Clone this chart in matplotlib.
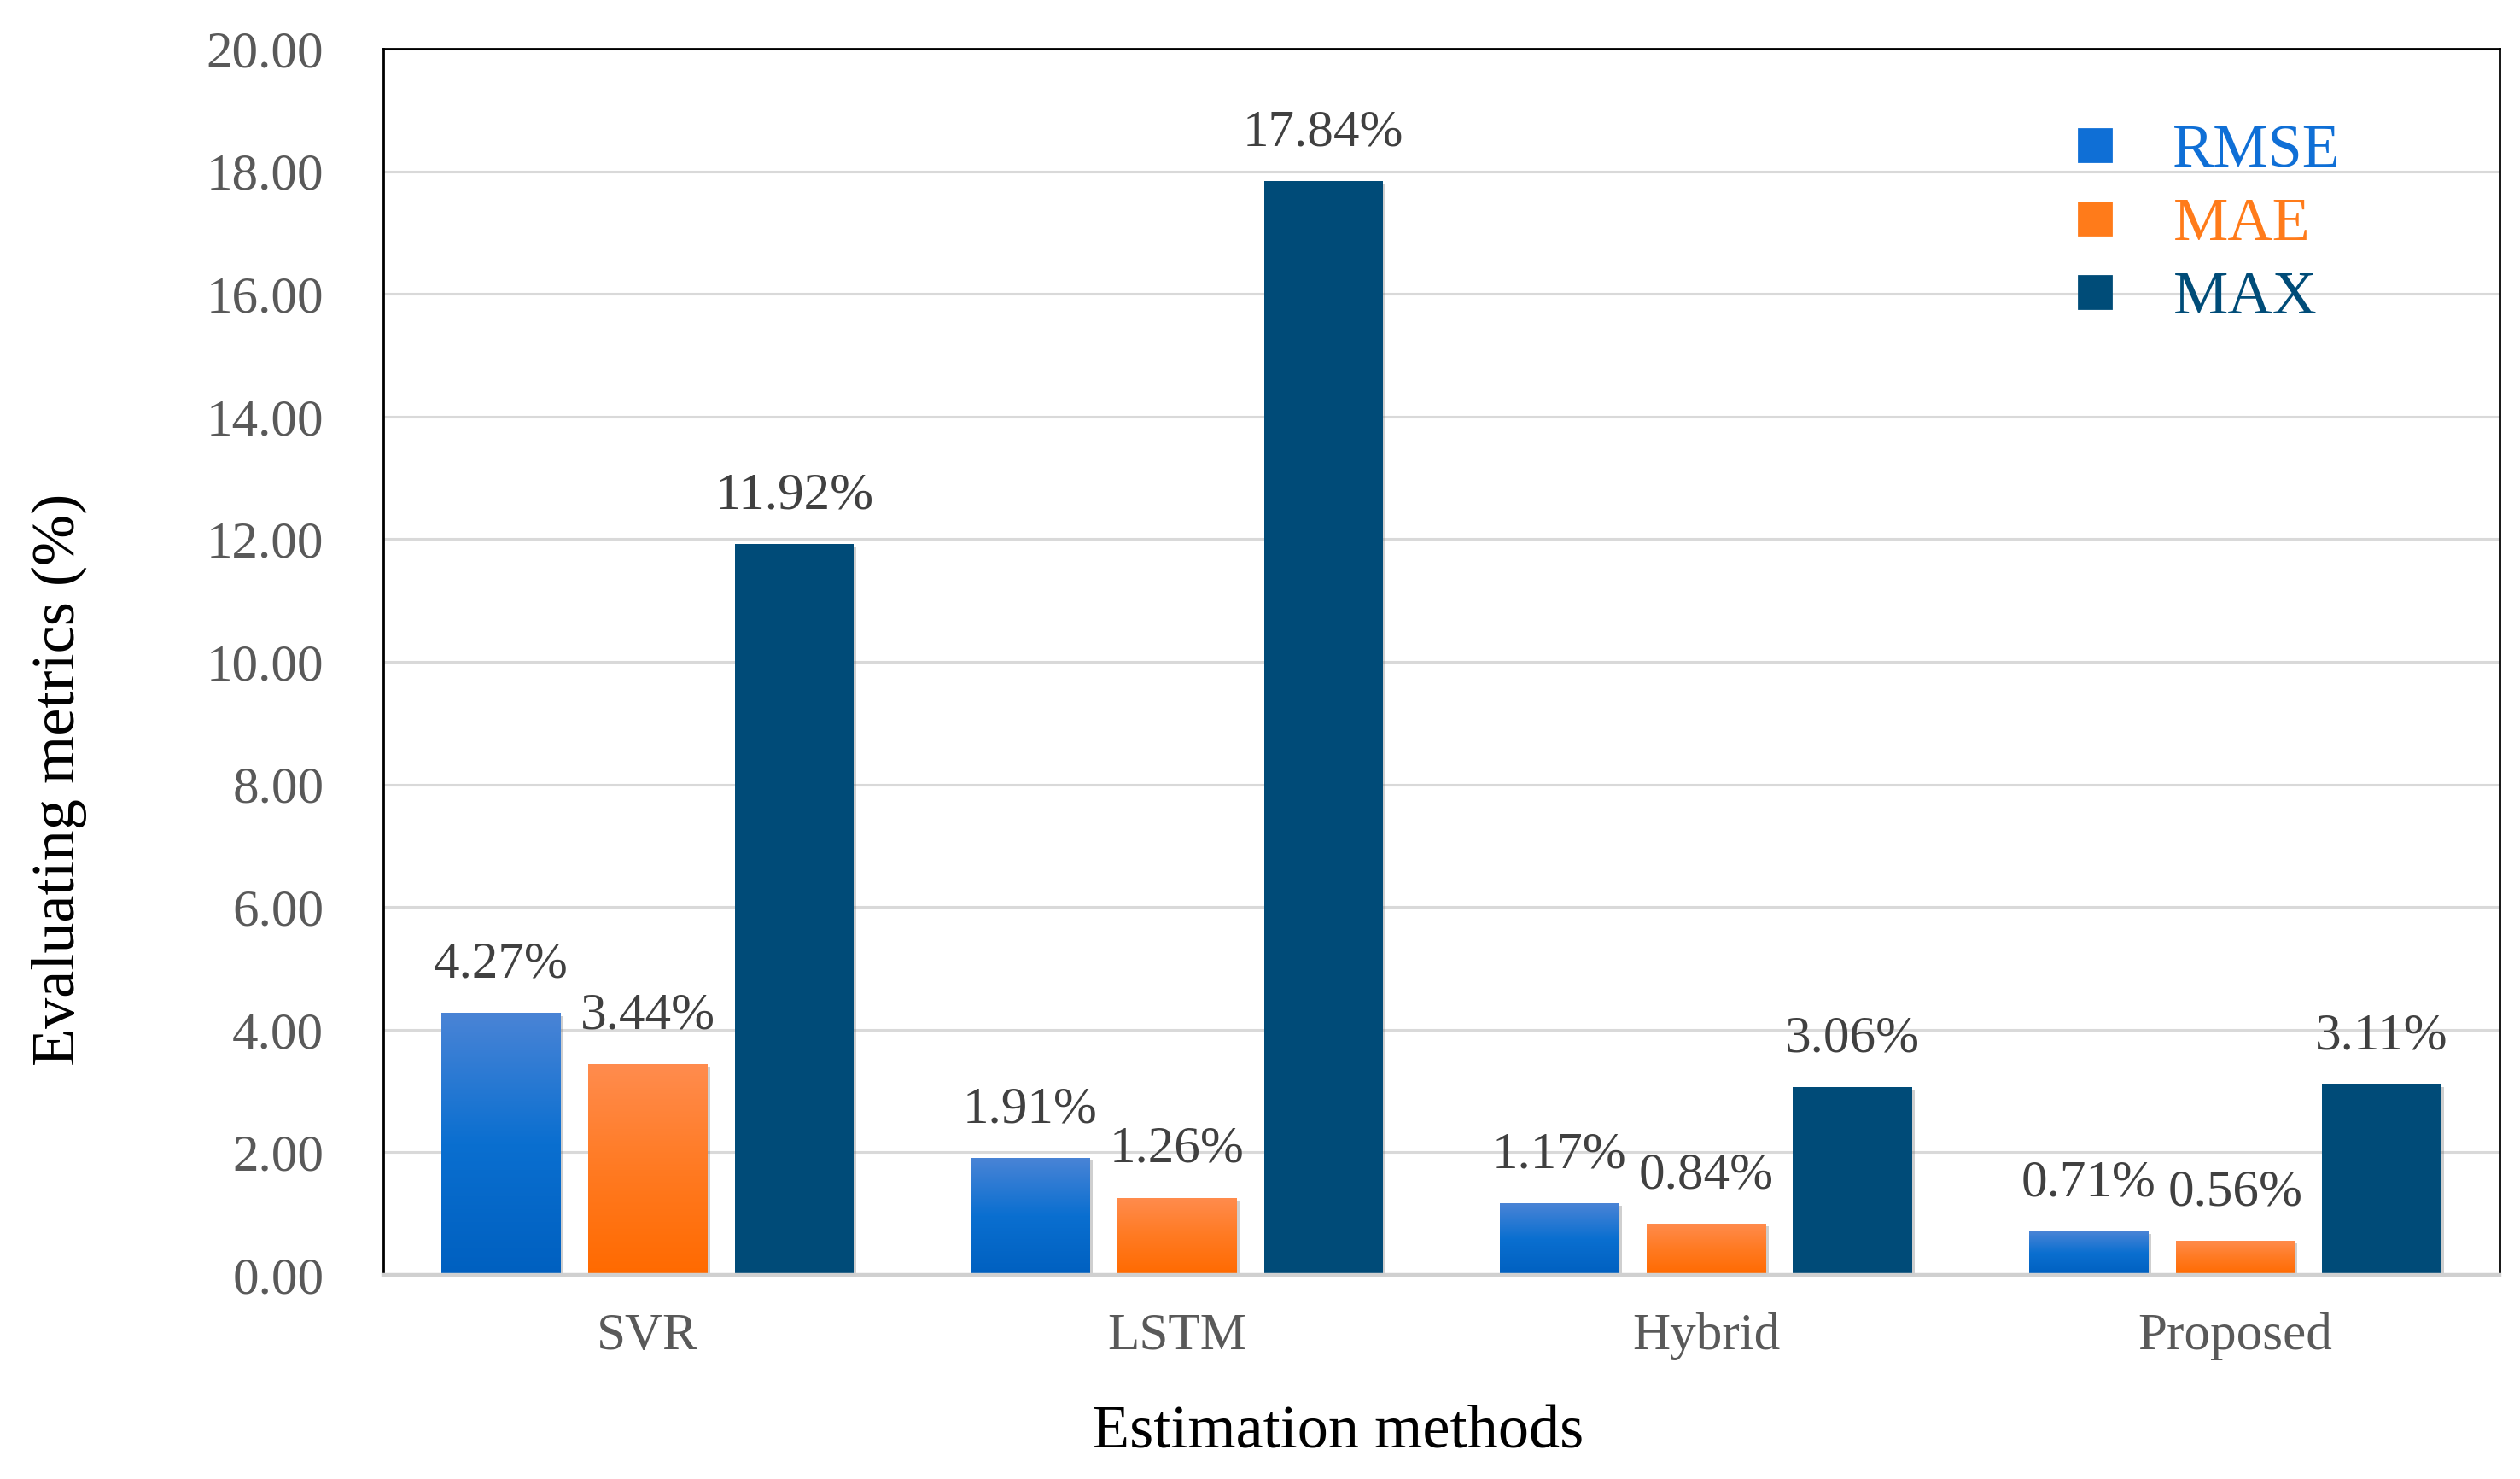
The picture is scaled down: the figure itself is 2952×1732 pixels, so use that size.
import numpy as np
import matplotlib
matplotlib.use("Agg")
import matplotlib.pyplot as plt
from matplotlib.lines import Line2D
from matplotlib import patheffects as pe
from matplotlib.colors import LinearSegmentedColormap

methods = ["SVR", "LSTM", "Hybrid", "Proposed"]
series_names = ["RMSE", "MAE", "MAX"]
rmse = [4.27, 1.91, 1.17, 0.71]
mae = [3.44, 1.26, 0.84, 0.56]
maxe = [11.92, 17.84, 3.06, 3.11]
yticks = [0, 2, 4, 6, 8, 10, 12, 14, 16, 18, 20]

legend_colors = ["#0f6fd6", "#ff7b1a", "#004c78"]
grad_colors = [
    ["#0060c0", "#0a6fd0", "#4a84d6"],
    ["#ff6a00", "#ff7a22", "#ff8c4e"],
    None,
]
solid_colors = ["#0a6fd0", "#ff7a22", "#004b78"]

plt.rcParams["font.family"] = ["Liberation Serif", "DejaVu Serif"]

fig = plt.figure(figsize=(14.76, 8.66), dpi=200)
ax = fig.add_axes([0.152, 0.138, 0.840, 0.829])

x = np.arange(len(methods))
width = 0.225
step = 0.277
data = [rmse, mae, maxe]

shadow = [pe.SimplePatchShadow(offset=(1.2, -1.2), shadow_rgbFace="#777777", alpha=0.35), pe.Normal()]

for i, vals in enumerate(data):
    bars = ax.bar(x + (i - 1) * step, vals, width, color=solid_colors[i], zorder=3,
                  linewidth=0)
    for b in bars:
        b.set_path_effects(shadow)
    if grad_colors[i] is not None:
        cmap = LinearSegmentedColormap.from_list("g%d" % i, grad_colors[i])
        grad = np.linspace(0, 1, 256).reshape(-1, 1)
        for b in bars:
            bx, by = b.get_x(), b.get_y()
            bw, bh = b.get_width(), b.get_height()
            im = ax.imshow(grad, extent=[bx, bx + bw, by, by + bh], origin="lower",
                           cmap=cmap, aspect="auto", zorder=4, interpolation="bicubic")
            im.set_clip_path(b)
    for xi, v in zip(x + (i - 1) * step, vals):
        ax.annotate(f"{v:.2f}%", xy=(xi, v), xytext=(0, 15), textcoords="offset points",
                    ha="center", va="baseline", fontsize=22, color="#404040", zorder=6)

ax.set_xlim(-0.5, len(methods) - 0.5)
ax.set_ylim(0, 20)
ax.set_yticks(yticks)
ax.set_yticklabels([f"{t:.2f}" for t in yticks])
ax.set_xticks(x)
ax.set_xticklabels(methods)
ax.tick_params(axis="y", length=0, pad=25, labelsize=22, labelcolor="#595959")
ax.tick_params(axis="x", length=0, pad=16, labelsize=22, labelcolor="#595959")

ax.grid(axis="y", color="#d9d9d9", linewidth=1.1, zorder=0)
ax.set_axisbelow(True)
for s in ["left", "top", "right"]:
    ax.spines[s].set_color("black")
    ax.spines[s].set_linewidth(1.0)
ax.spines["bottom"].set_color("#d0d0d0")
ax.spines["bottom"].set_linewidth(1.6)
ax.spines["bottom"].set_zorder(5)

ax.set_ylabel("Evaluating metrics (%)", fontsize=26, color="black", va="center")
ax.yaxis.set_label_coords(-0.153, 0.404)
ax.set_xlabel("Estimation methods", fontsize=26, color="black", va="center")
ax.xaxis.set_label_coords(0.451, -0.129)

handles = [Line2D([], [], marker="s", linestyle="none", markersize=14,
                  markerfacecolor=c, markeredgecolor=c) for c in legend_colors]
leg = ax.legend(handles, series_names, loc="upper left", bbox_to_anchor=(0.794, 0.939),
                frameon=False, fontsize=26, handlelength=1.0, handletextpad=0.77,
                labelspacing=0.28, borderpad=0, borderaxespad=0)
for t, c in zip(leg.get_texts(), legend_colors):
    t.set_color(c)

fig.savefig("out.png", dpi=200, facecolor="white")
